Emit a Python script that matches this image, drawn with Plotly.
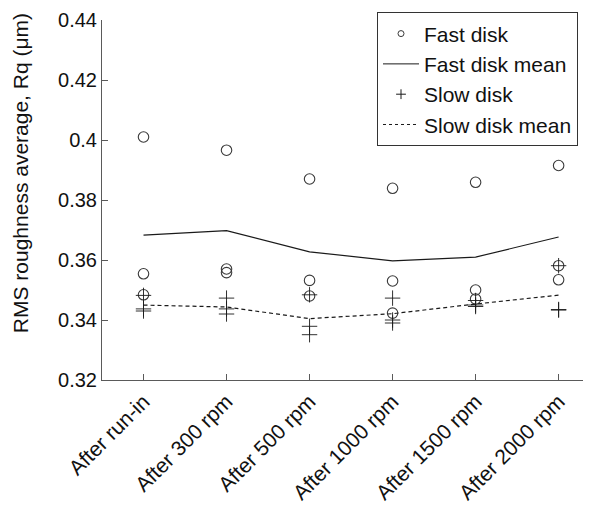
import numpy as np
import plotly.graph_objects as go

categories = ["After run-in", "After 300 rpm", "After 500 rpm",
              "After 1000 rpm", "After 1500 rpm", "After 2000 rpm"]

# three measurements per stage
fast_disk = [
    [0.4010, 0.3554, 0.3484],
    [0.3966, 0.3570, 0.3558],
    [0.3870, 0.3532, 0.3480],
    [0.3839, 0.3530, 0.3423],
    [0.3859, 0.3500, 0.3470],
    [0.3915, 0.3581, 0.3534],
]
slow_disk = [
    [0.3482, 0.3437, 0.3430],
    [0.3473, 0.3437, 0.3420],
    [0.3484, 0.3379, 0.3351],
    [0.3473, 0.3400, 0.3390],
    [0.3465, 0.3450, 0.3445],
    [0.3581, 0.3435, 0.3433],
]
y_ticks = [0.32, 0.34, 0.36, 0.38, 0.40, 0.42, 0.44]
y_tick_text = ["0.32", "0.34", "0.36", "0.38", "0.4", "0.42", "0.44"]
y_title = "RMS roughness average, Rq (μm)"

fast_mean = [float(np.mean(v)) for v in fast_disk]
slow_mean = [float(np.mean(v)) for v in slow_disk]

FONT = "Liberation Sans, Arial, sans-serif"
MK = "#3a3a3a"
LN = "#1a1a1a"
AX = "#5a5a5a"
TXT = "#111111"

fig = go.Figure()

def scatter_xy(data):
    xs, ys = [], []
    for c, vals in zip(categories, data):
        for v in vals:
            xs.append(c)
            ys.append(v)
    return xs, ys

fx, fy = scatter_xy(fast_disk)
sx, sy = scatter_xy(slow_disk)

fig.add_trace(go.Scatter(x=fx, y=fy, mode="markers", showlegend=False,
                         marker=dict(symbol="circle-open", size=10.5, color=MK,
                                     line=dict(width=1.1, color=MK))))
fig.add_trace(go.Scatter(x=categories, y=fast_mean, mode="lines", showlegend=False,
                         line=dict(color=LN, width=1.2)))
fig.add_trace(go.Scatter(x=sx, y=sy, mode="markers", showlegend=False,
                         marker=dict(symbol="cross-thin-open", size=11, color=LN,
                                     line=dict(width=0.9, color=LN))))
fig.add_trace(go.Scatter(x=categories, y=slow_mean, mode="lines", showlegend=False,
                         line=dict(color=LN, width=1.2, dash="4px,3px")))

# legend entries (small symbols as in the original)
fig.add_trace(go.Scatter(x=[None], y=[None], mode="markers", name="Fast disk",
                         marker=dict(symbol="circle-open", size=6, color=MK,
                                     line=dict(width=1, color=MK))))
fig.add_trace(go.Scatter(x=[None], y=[None], mode="lines", name="Fast disk mean",
                         line=dict(color=LN, width=1)))
fig.add_trace(go.Scatter(x=[None], y=[None], mode="markers", name="Slow disk",
                         marker=dict(symbol="cross-thin-open", size=7, color=LN,
                                     line=dict(width=1, color=LN))))
fig.add_trace(go.Scatter(x=[None], y=[None], mode="lines", name="Slow disk mean",
                         line=dict(color=LN, width=1, dash="3px,3px")))

# page body has an 8px margin: figure is 583x511 so it fits the 591x519 window
fig.update_layout(
    width=583, height=511,
    margin=dict(l=94, r=0, t=11.5, b=138.5),
    paper_bgcolor="white", plot_bgcolor="white",
    font=dict(family=FONT, size=20, color=TXT),
    showlegend=True,
    legend=dict(x=0.5624, y=1.021, xanchor="left", yanchor="top",
                bgcolor="white", bordercolor="#333333", borderwidth=1,
                font=dict(size=21, family=FONT, color=TXT),
                tracegroupgap=0, itemwidth=36, entrywidth=172),
    xaxis=dict(type="category", categoryorder="array", categoryarray=categories,
               range=[-0.5, 5.39], showgrid=False, zeroline=False, automargin=False,
               showline=True, linecolor=AX, linewidth=1,
               ticks="inside", ticklen=6, tickcolor=AX,
               tickangle=-45, tickfont=dict(size=21, family=FONT, color=TXT)),
    yaxis=dict(range=[0.32, 0.44], tickvals=y_ticks, ticktext=y_tick_text,
               showgrid=False, zeroline=False, automargin=False,
               showline=True, linecolor=AX, linewidth=1,
               ticks="inside", ticklen=6, tickcolor=AX,
               tickfont=dict(size=20, family=FONT, color=TXT)),
    annotations=[dict(text=y_title, textangle=-90, showarrow=False,
                      xref="paper", yref="paper", x=-0.166, y=0.574,
                      xanchor="center", yanchor="middle",
                      font=dict(size=21, family=FONT, color=TXT))],
)

fig.write_html("out.html")
